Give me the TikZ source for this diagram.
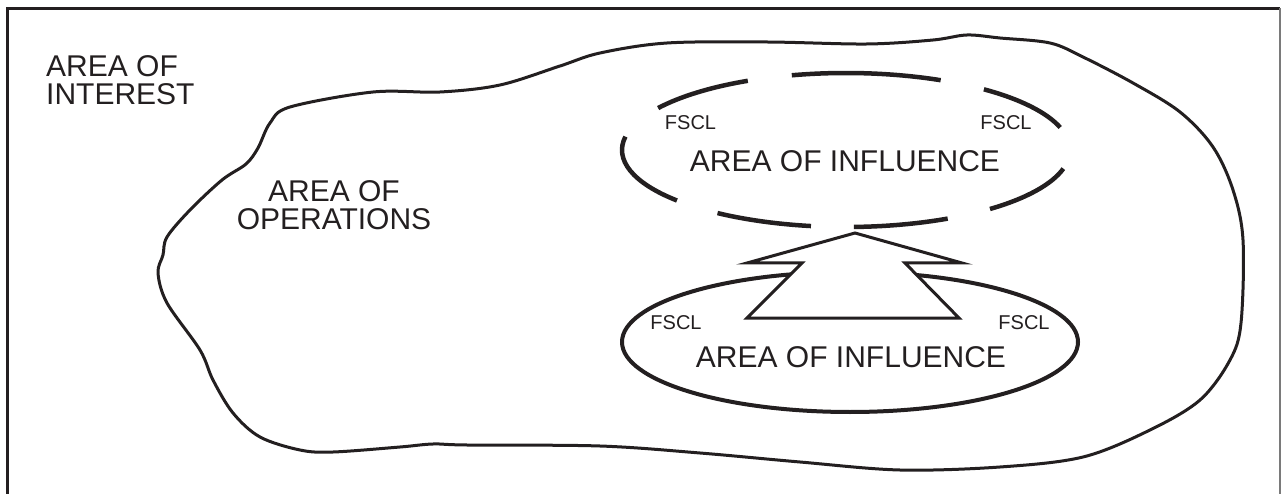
\documentclass[tikz,border=0pt]{standalone}
\usepackage{fontspec}
\setmainfont{Liberation Sans}
\usetikzlibrary{calc}
\definecolor{inkc}{HTML}{231F20}
\definecolor{edgegray}{HTML}{7A7A7A}
\begin{document}
\begin{tikzpicture}[x=1pt,y=-1pt,
  line/.style={draw=inkc, line join=round, line cap=round},
  big/.style={font=\fontsize{30}{28.5}\selectfont, text=inkc, inner sep=0pt},
  small/.style={font=\fontsize{20}{20}\selectfont, text=inkc, inner sep=0pt}]
\useasboundingbox (0,0) rectangle (1282,494);

% outer frame, open at the bottom
\draw[inkc, line width=3] (7,494) -- (7,8.5) -- (1280,8.5);
\draw[edgegray, line width=1.5] (1280,8.5) -- (1280,494);

% area of operations outline
\draw[line, line width=3] plot[smooth cycle, tension=0.55] coordinates {
  (440,92) (500,85) (560,66) (600,53) (667,43) (767,42) (867,44) (933,40)
  (967,35) (1000,38) (1050,43) (1083,57) (1133,83) (1180,112) (1213,147)
  (1233,190) (1243,240) (1241,323) (1230,360) (1200,400) (1150,430)
  (1083,457) (1000,467) (900,470) (800,462) (700,453) (600,446) (467,445)
  (433,444) (400,447) (333,452) (300,450) (260,437) (233,413) (213,380)
  (200,350) (167,303) (158,273) (163,255) (167,237) (190,210) (222,180)
  (246,164) (258,148) (270,123) (290,107) (373,92)};

% current area of influence
\coordinate (lowc) at (850,342);
\draw[line, line width=4] (lowc) ellipse [x radius=228, y radius=70];

% direction of movement
\draw[inkc, line width=3, fill=white, line join=miter]
  (855,233) coordinate (tip) -- (747,263) -- (802,263) -- (747,318)
  -- (959,318) -- (905,263) -- (962,263) -- cycle;

% future area of influence, drawn as dashed arcs
\coordinate (upc) at (846,150);
\foreach \a/\b in {17/52, 65/104, 116/147, 170/221, 235/261, 272/297, 310/346}
  \draw[inkc, line width=4.5] ($(upc)+(-\a:224 and 77)$) arc[start angle=-\a, end angle=-\b, x radius=224, y radius=77];

% labels (multi-line nodes sit on the baseline of their last line)
\node[big, align=left, anchor=base west] (interest) at (46,105) {AREA OF\\INTEREST};
\node[big, align=center, anchor=base] (operations) at (334,230) {AREA OF\\OPERATIONS};
\node[big, anchor=base] (upinf) at (845,172) {AREA OF INFLUENCE};
\node[big, anchor=base] (lowinf) at (851,367) {AREA OF INFLUENCE};
\node[small, anchor=base] (fsclUL) at (690.5,130) {FSCL};
\node[small, anchor=base] (fsclUR) at (1006,130) {FSCL};
\node[small, anchor=base] (fsclLL) at (676,330) {FSCL};
\node[small, anchor=base] (fsclLR) at (1024,330) {FSCL};
\end{tikzpicture}
\end{document}
